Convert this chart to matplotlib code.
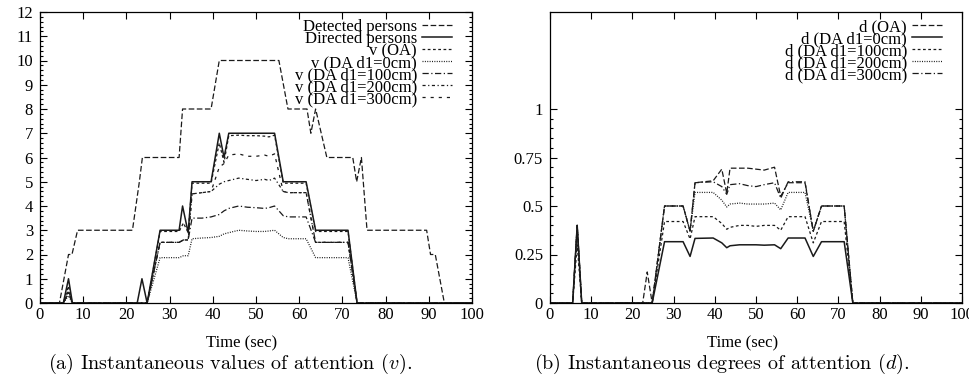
import matplotlib
matplotlib.use('Agg')
import matplotlib.pyplot as plt
from matplotlib.ticker import MultipleLocator, FixedLocator

plt.rcParams['font.family'] = ['Liberation Serif', 'DejaVu Serif']
plt.rcParams['mathtext.fontset'] = 'cm'

# ---- left chart: instantaneous values of attention (v) ----
detected_t = [0, 4.5, 6.6, 7.4, 8.7, 21.4, 23, 23.7, 32.2, 33, 39.6, 41.5, 55.3, 57.4,
              61.8, 62.7, 63.8, 66.4, 72.4, 73.3, 74.4, 75.7, 89.5, 90.4, 91.5, 93.6, 100]
detected_v = [0, 0, 2, 2, 3, 3, 5, 6, 6, 8, 8, 10, 10, 8,
              8, 7, 8, 6, 6, 5, 6, 3, 3, 2, 2, 0, 0]

directed_t = [0, 5.4, 6.6, 7.5, 22.5, 23.6, 24.8, 27.8, 32.2, 33, 34.3, 35.2, 39.6,
              41.5, 42.6, 43.7, 54.3, 56.3, 61.6, 63.8, 71.3, 73.4, 100]
directed_v = [0, 0, 1, 0, 0, 1, 0, 3, 3, 4, 2.9, 5, 5,
              7, 6, 7, 7, 5, 5, 3, 3, 0, 0]

t_v = [0, 5.4, 6.6, 7.5, 24.8, 27.8, 32.2, 33.2, 34.3, 35.2, 37.5, 39.6, 41.5, 42.6, 43.7,
       46, 48, 50, 52, 53, 54.3, 56.3, 57.5, 61.6, 63.8, 65, 71.3, 73.4, 100]
v_oa = [0, 0, 0.7, 0, 0, 2.95, 2.95, 3.3, 2.9, 4.94, 4.94, 4.94, 6.6, 5.8, 6.9,
        6.92, 6.9, 6.9, 6.88, 6.85, 6.92, 4.94, 4.94, 4.94, 2.95, 2.95, 2.95, 0, 0]
v_da0 = [0, 0, 0.3, 0, 0, 1.87, 1.87, 1.95, 1.95, 2.65, 2.68, 2.7, 2.75, 2.85, 2.9,
         3.0, 2.97, 2.95, 2.95, 2.97, 3.0, 2.7, 2.65, 2.65, 1.87, 1.87, 1.87, 0, 0]
v_da100 = [0, 0, 0.4, 0, 0, 2.5, 2.5, 2.6, 2.6, 3.5, 3.5, 3.55, 3.65, 3.8, 3.9,
           4.0, 3.95, 3.93, 3.9, 3.93, 4.0, 3.6, 3.55, 3.55, 2.5, 2.5, 2.5, 0, 0]
v_da200 = [0, 0, 0.5, 0, 0, 2.5, 2.5, 2.6, 2.6, 4.5, 4.55, 4.6, 4.9, 5.0, 5.05,
           5.15, 5.1, 5.05, 5.1, 5.05, 5.15, 4.6, 4.55, 4.55, 2.5, 2.5, 2.5, 0, 0]
v_da300 = [0, 0, 0.5, 0, 0, 2.5, 2.5, 2.6, 2.6, 4.5, 4.55, 4.6, 5.6, 5.75, 6.1,
           6.15, 6.05, 6.05, 6.1, 6.05, 6.15, 4.6, 4.55, 4.55, 2.5, 2.5, 2.5, 0, 0]

# ---- right chart: instantaneous degrees of attention (d) ----
t_d = [0, 5.5, 6.6, 7.7, 22.5, 23.6, 24.8, 27.8, 32.3, 34.0, 35.2, 39.6, 41.7, 42.9, 43.7,
       46, 48, 50, 52, 54.5, 56.0, 57.8, 61.9, 63.9, 65.9, 71.4, 73.5, 100]
d_oa = [0, 0, 0.4, 0, 0, 0.16, 0, 0.5, 0.5, 0.37, 0.62, 0.63, 0.69, 0.565, 0.695,
        0.695, 0.695, 0.69, 0.685, 0.7, 0.55, 0.62, 0.62, 0.37, 0.5, 0.5, 0, 0]
d_da0 = [0, 0, 0.4, 0, 0, 0, 0, 0.316, 0.316, 0.24, 0.333, 0.335, 0.31, 0.285, 0.295,
         0.3, 0.3, 0.3, 0.298, 0.3, 0.28, 0.335, 0.335, 0.24, 0.316, 0.316, 0, 0]
d_da100 = [0, 0, 0.3, 0, 0, 0, 0, 0.42, 0.42, 0.33, 0.445, 0.445, 0.41, 0.38, 0.39,
           0.4, 0.4, 0.395, 0.4, 0.4, 0.375, 0.445, 0.445, 0.31, 0.42, 0.42, 0, 0]
d_da200 = [0, 0, 0.4, 0, 0, 0, 0, 0.5, 0.5, 0.37, 0.57, 0.57, 0.53, 0.495, 0.51,
           0.515, 0.51, 0.51, 0.51, 0.515, 0.48, 0.57, 0.57, 0.37, 0.5, 0.5, 0, 0]
d_da300 = [0, 0, 0.4, 0, 0, 0, 0, 0.5, 0.5, 0.37, 0.62, 0.625, 0.6, 0.56, 0.61,
           0.615, 0.605, 0.6, 0.61, 0.62, 0.54, 0.625, 0.625, 0.37, 0.5, 0.5, 0, 0]

d_ticks = [0, 0.25, 0.5, 0.75, 1]
d_ticklabels = ['0', '0.25', '0.5', '0.75', '1']

ink = '#1a1a1a'
lw = 0.9

fig = plt.figure(figsize=(9.7, 3.86), dpi=100)
ax1 = fig.add_axes([40 / 970, 83 / 386, 432 / 970, 291 / 386])
ax2 = fig.add_axes([550 / 970, 83 / 386, 412 / 970, 291 / 386])

ax1.plot(detected_t, detected_v, color=ink, lw=lw, dashes=(4.5, 2), label='Detected persons')
ax1.plot(directed_t, directed_v, color=ink, lw=1.1, label='Directed persons')
ax1.plot(t_v, v_oa, color=ink, lw=lw, dashes=(2.2, 2), label='v (OA)')
ax1.plot(t_v, v_da0, color=ink, lw=lw, dashes=(0.8, 1.1), label='v (DA d1=0cm)')
ax1.plot(t_v, v_da100, color=ink, lw=lw, dashes=(5, 2, 1, 2), label='v (DA d1=100cm)')
ax1.plot(t_v, v_da200, color=ink, lw=lw, dashes=(2.5, 2, 1, 2), label='v (DA d1=200cm)')
ax1.plot(t_v, v_da300, color=ink, lw=lw, dashes=(2.5, 4), label='v (DA d1=300cm)')

ax2.plot(t_d, d_oa, color=ink, lw=lw, dashes=(4.5, 2), label='d (OA)')
ax2.plot(t_d, d_da0, color=ink, lw=1.1, label='d (DA d1=0cm)')
ax2.plot(t_d, d_da100, color=ink, lw=lw, dashes=(2.2, 2), label='d (DA d1=100cm)')
ax2.plot(t_d, d_da200, color=ink, lw=lw, dashes=(0.8, 1.1), label='d (DA d1=200cm)')
ax2.plot(t_d, d_da300, color=ink, lw=lw, dashes=(5, 2, 1, 2), label='d (DA d1=300cm)')

ax1.set_ylim(0, 12)
ax1.yaxis.set_major_locator(MultipleLocator(1))
ax1.yaxis.set_minor_locator(MultipleLocator(0.2))

ax2.set_ylim(0, 1.5)
ax2.yaxis.set_major_locator(FixedLocator(d_ticks))
ax2.set_yticklabels(d_ticklabels)
ax2.yaxis.set_minor_locator(FixedLocator([i * 0.05 for i in range(21)]))

for ax, w in ((ax1, 432), (ax2, 412)):
    ax.set_xlim(0, 100)
    ax.xaxis.set_major_locator(MultipleLocator(10))
    ax.tick_params(which='both', direction='in', top=True, right=True, labelsize=12, width=0.8)
    ax.tick_params(which='major', length=5)
    ax.tick_params(which='minor', length=2.5)
    ax.tick_params(axis='x', pad=3)
    ax.tick_params(axis='y', pad=5)
    for s in ax.spines.values():
        s.set_linewidth(0.9)
    ax.set_xlabel('Time (sec)', fontsize=12, labelpad=9)
    ax.xaxis.label.set_x(0.467)
    ax.legend(loc='upper right', bbox_to_anchor=(1 - 20 / w, 1 - 7 / 291),
              frameon=False, markerfirst=False, fontsize=12,
              handlelength=1.8, handletextpad=0.3, labelspacing=-0.24,
              borderaxespad=0, borderpad=0)

fig.text(48 / 970, 22 / 386, r'(a) Instantaneous values of attention ($v$).',
         ha='left', va='center', fontsize=14.5, family='cmr10')
fig.text(534 / 970, 22 / 386, r'(b) Instantaneous degrees of attention ($d$).',
         ha='left', va='center', fontsize=14.5, family='cmr10')

fig.savefig('out.png', dpi=100)
